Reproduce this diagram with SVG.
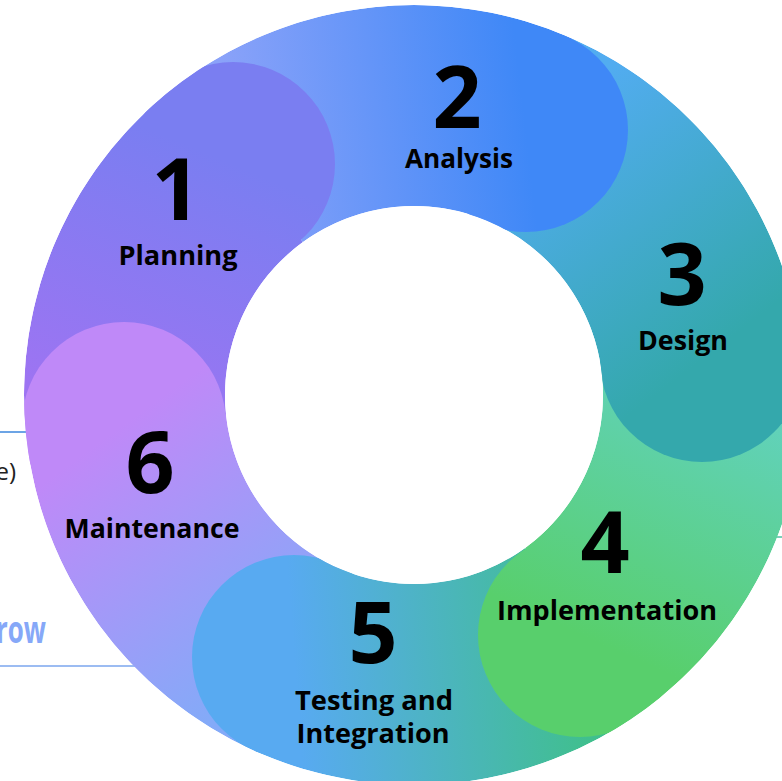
<svg xmlns="http://www.w3.org/2000/svg" width="782" height="781" viewBox="0 0 782 781">
<style>
.num{font-family:"Open Sans","Noto Sans",sans-serif;font-weight:700;font-size:86px;fill:#000;text-anchor:middle}
.lbl{font-family:"Open Sans","Noto Sans",sans-serif;font-weight:700;font-size:26px;fill:#000;text-anchor:middle}
</style>
<defs>
<clipPath id="annulus"><path clip-rule="evenodd" d="M24 395 A390 390 0 1 1 804 395 A390 390 0 1 1 24 395 Z M225 395 A189 189 0 1 0 603 395 A189 189 0 1 0 225 395 Z"/></clipPath>
<linearGradient id="g1" gradientUnits="userSpaceOnUse" x1="124" y1="424" x2="233" y2="164"><stop offset="0" stop-color="#9d74f2"/><stop offset="1" stop-color="#7a7ef1"/></linearGradient>
<linearGradient id="g2" gradientUnits="userSpaceOnUse" x1="233" y1="164" x2="526" y2="130"><stop offset="0" stop-color="#8aa2f9"/><stop offset="1" stop-color="#3f88f7"/></linearGradient>
<linearGradient id="g3" gradientUnits="userSpaceOnUse" x1="526" y1="130" x2="702" y2="360"><stop offset="0" stop-color="#52acf0"/><stop offset="1" stop-color="#34a8ac"/></linearGradient>
<linearGradient id="g4" gradientUnits="userSpaceOnUse" x1="702" y1="360" x2="580" y2="635"><stop offset="0" stop-color="#62d2c2"/><stop offset="1" stop-color="#58cf6c"/></linearGradient>
<linearGradient id="g5" gradientUnits="userSpaceOnUse" x1="580" y1="635" x2="294" y2="657"><stop offset="0" stop-color="#40bf8e"/><stop offset="1" stop-color="#58aaf1"/></linearGradient>
<linearGradient id="g6" gradientUnits="userSpaceOnUse" x1="294" y1="657" x2="124" y2="424"><stop offset="0" stop-color="#84aaf8"/><stop offset="1" stop-color="#bf89f8"/></linearGradient>
</defs>
<g id="background">
<line x1="0" y1="432" x2="40" y2="432" stroke="#3b86dc" stroke-width="1.5"/>
<line x1="0" y1="666" x2="220" y2="666" stroke="#9cbcf2" stroke-width="2"/>
<line x1="700" y1="537" x2="782" y2="537" stroke="#4cc0a0" stroke-width="1.5"/>
<text x="16" y="480" text-anchor="end" font-family="Open Sans, sans-serif" font-size="24" fill="#222">e)</text>
<text transform="translate(46,643) scale(0.7,1)" x="0" y="0" text-anchor="end" font-family="Open Sans, sans-serif" font-weight="700" font-size="37" fill="#86a8f8">row</text>
</g>
<g id="connectors"></g>
<g id="ring" clip-path="url(#annulus)">
<path id="seg1" fill="url(#g1)" d="M26.14 435.76 A390 390 0 0 1 184.76 79.49 L302.91 242.10 A189 189 0 0 0 226.04 414.75 Z"/>
<path id="seg2" fill="url(#g2)" d="M184.76 79.49 A390 390 0 0 1 572.61 38.73 L490.87 222.35 A189 189 0 0 0 302.91 242.10 Z"/>
<path id="seg3" fill="url(#g3)" d="M572.61 38.73 A390 390 0 0 1 801.86 354.24 L601.96 375.25 A189 189 0 0 0 490.87 222.35 Z"/>
<path id="seg4" fill="url(#g4)" d="M801.86 354.24 A390 390 0 0 1 643.24 710.51 L525.09 547.90 A189 189 0 0 0 601.96 375.25 Z"/>
<path id="seg5" fill="url(#g5)" d="M643.24 710.51 A390 390 0 0 1 255.39 751.27 L337.13 567.65 A189 189 0 0 0 525.09 547.90 Z"/>
<path id="seg6" fill="url(#g6)" d="M255.39 751.27 A390 390 0 0 1 26.14 435.76 L226.04 414.75 A189 189 0 0 0 337.13 567.65 Z"/>
<circle fill="url(#g1)" cx="233" cy="164" r="102"/>
<circle fill="url(#g2)" cx="526" cy="130" r="102"/>
<circle fill="url(#g3)" cx="702" cy="360" r="102"/>
<circle fill="url(#g4)" cx="580" cy="635" r="102"/>
<circle fill="url(#g5)" cx="294" cy="657" r="102"/>
<circle fill="url(#g6)" cx="124" cy="424" r="102"/>
</g>
<g id="node1"><text class="num" x="176" y="220">1</text><text class="lbl" x="178" y="265" textLength="119" lengthAdjust="spacingAndGlyphs">Planning</text></g>
<g id="node2"><text class="num" x="457" y="128">2</text><text class="lbl" x="459" y="168" textLength="108" lengthAdjust="spacingAndGlyphs">Analysis</text></g>
<g id="node3"><text class="num" x="682" y="305">3</text><text class="lbl" x="683" y="350" textLength="90" lengthAdjust="spacingAndGlyphs">Design</text></g>
<g id="node4"><text class="num" x="605" y="573">4</text><text class="lbl" x="607" y="620" textLength="220" lengthAdjust="spacingAndGlyphs">Implementation</text></g>
<g id="node5"><text class="num" x="373" y="663">5</text><text class="lbl" x="374" y="710" textLength="158" lengthAdjust="spacingAndGlyphs">Testing and</text><text class="lbl" x="373" y="743" textLength="153" lengthAdjust="spacingAndGlyphs">Integration</text></g>
<g id="node6"><text class="num" x="150" y="493">6</text><text class="lbl" x="152" y="538" textLength="175" lengthAdjust="spacingAndGlyphs">Maintenance</text></g>
</svg>
